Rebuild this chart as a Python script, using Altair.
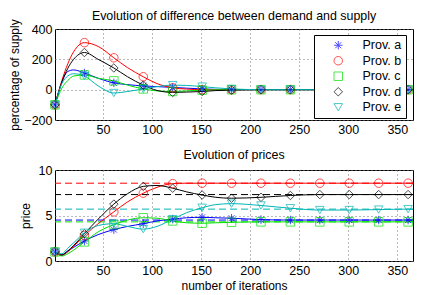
import altair as alt
import pandas as pd

PROVS = ["Prov. a", "Prov. b", "Prov. c", "Prov. d", "Prov. e"]
COLORS = ["#0000ff", "#ff0000", "#00e000", "#000000", "#00b4b4"]
ASTERISK = "M0,-1L0,1M-1,0L1,0M-0.71,-0.71L0.71,0.71M-0.71,0.71L0.71,-0.71"
SHAPES = [ASTERISK, "circle", "square", "diamond", "triangle-down"]

ITER = [1, 8, 14, 20, 31, 45, 61, 75, 91, 105, 121, 135, 151, 165, 181, 211, 241, 271, 301, 331, 361, 366]

DIFF_A = [-100, 50, 120, 130, 110, 75, 45, 33, 25, 20, 15, 10, 5, 2, 0, 0, 0, 0, 0, 0, 0, 0]
DIFF_B = [-100, 60, 170, 250, 310, 285, 210, 145, 85, 40, 12, 4, 0, 0, 0, 0, 0, 0, 0, 0, 0, 0]
DIFF_C = [-100, 10, 60, 90, 97, 75, 58, 30, 5, -8, -12, -8, -3, -1, 0, 0, 0, 0, 0, 0, 0, 0]
DIFF_D = [-100, 50, 140, 200, 245, 200, 143, 85, 30, -5, -18, -16, -12, -6, -3, 0, 0, 0, 0, 0, 0, 0]
DIFF_E = [-100, 40, 90, 105, 90, 25, -22, -12, 5, 20, 30, 28, 20, 12, 5, 0, 0, 0, 0, 0, 0, 0]

PRICE_A = [1.0, 0.7, 1.1, 1.5, 2.2, 2.9, 3.45, 3.8, 4.1, 4.4, 4.6, 4.75, 4.8, 4.75, 4.7, 4.55, 4.5, 4.5, 4.5, 4.5, 4.5, 4.5]
PRICE_B = [1.0, 0.65, 1.0, 1.6, 2.8, 4.1, 5.4, 6.5, 7.45, 8.1, 8.5, 8.55, 8.55, 8.55, 8.55, 8.55, 8.55, 8.55, 8.55, 8.55, 8.55, 8.55]
PRICE_C = [1.0, 0.55, 0.8, 1.2, 2.1, 3.2, 4.0, 4.5, 4.75, 4.7, 4.4, 4.2, 4.15, 4.2, 4.25, 4.3, 4.3, 4.3, 4.3, 4.3, 4.3, 4.3]
PRICE_D = [1.0, 0.65, 1.1, 1.7, 3.0, 4.6, 6.25, 7.4, 8.2, 8.3, 8.0, 7.6, 7.25, 7.0, 6.9, 7.0, 7.2, 7.3, 7.3, 7.3, 7.3, 7.3]
PRICE_E = [1.0, 0.8, 1.4, 2.0, 3.1, 3.9, 4.1, 3.8, 3.5, 3.8, 4.6, 5.3, 5.85, 6.2, 6.3, 6.1, 5.8, 5.6, 5.6, 5.65, 5.7, 5.7]

EQ_PRICE = [4.5, 8.55, 4.3, 7.3, 5.7]

X_TICKS = [50, 100, 150, 200, 250, 300, 350]
DIFF_TICKS = [-200, 0, 200, 400]
PRICE_TICKS = [0, 5, 10]

FONT = "Liberation Sans"

def long_df(series):
    rows = []
    for prov, vals in zip(PROVS, series):
        for x, v in zip(ITER, vals):
            rows.append({"iter": x, "value": v, "prov": prov})
    return pd.DataFrame(rows)

diff_df = long_df([DIFF_A, DIFF_B, DIFF_C, DIFF_D, DIFF_E])
price_df = long_df([PRICE_A, PRICE_B, PRICE_C, PRICE_D, PRICE_E])
eq_df = pd.DataFrame({"prov": PROVS, "value": EQ_PRICE})

color_scale = alt.Scale(domain=PROVS, range=COLORS)
shape_scale = alt.Scale(domain=PROVS, range=SHAPES)
x_scale = alt.Scale(domain=[1, 366], nice=False, zero=False)

W, H = 358, 91

def panel(df, ydomain, yticks, ytitle, xtitle, show_legend, ytitle_pad):
    x_enc = alt.X("iter:Q", scale=x_scale,
                  axis=alt.Axis(values=X_TICKS, title=xtitle))
    y_enc = alt.Y("value:Q", scale=alt.Scale(domain=ydomain, nice=False),
                  axis=alt.Axis(values=yticks, title=ytitle, titlePadding=ytitle_pad))
    lines = alt.Chart(df).mark_line(strokeWidth=1, interpolate="monotone").encode(
        x=x_enc, y=y_enc,
        color=alt.Color("prov:N", scale=color_scale, legend=None),
        detail="prov:N",
    )
    if show_legend:
        leg = alt.Legend(title=None, orient="none", legendX=259, legendY=6)
    else:
        leg = None
    pts = alt.Chart(df).mark_point(filled=False, size=72, strokeWidth=1).transform_filter(
        "(datum.iter - 1) % 30 == 0"
    ).encode(
        x=x_enc, y=y_enc,
        color=alt.Color("prov:N", scale=color_scale, legend=leg),
        shape=alt.Shape("prov:N", scale=shape_scale, legend=leg),
    )
    return lines, pts

top_lines, top_pts = panel(diff_df, [-200, 400], DIFF_TICKS, "percentage of supply",
                           None, True, 2)
bot_lines, bot_pts = panel(price_df, [0, 10], PRICE_TICKS, "price",
                           "number of iterations", False, 6)

rules = alt.Chart(eq_df).mark_rule(strokeWidth=1, strokeDash=[7, 4]).encode(
    y=alt.Y("value:Q"),
    color=alt.Color("prov:N", scale=color_scale, legend=None),
)

title_kw = dict(fontSize=12.4, fontWeight="normal", font=FONT, anchor="middle",
                frame="group", color="black")

top = alt.layer(top_lines, top_pts).properties(
    width=W, height=H,
    title=alt.Title("Evolution of difference between demand and supply", offset=-4, **title_kw),
).resolve_legend(color="independent", shape="independent")

bottom = alt.layer(rules, bot_lines, bot_pts).properties(
    width=W, height=H,
    title=alt.Title("Evolution of prices", offset=3, **title_kw),
)

chart = alt.vconcat(top, bottom, spacing=12).resolve_scale(
    color="independent", shape="independent"
).resolve_legend(color="independent", shape="independent").properties(
    padding={"left": 0, "top": 1, "right": 0, "bottom": 0}
).configure_view(
    stroke="black", strokeWidth=1
).configure_axis(
    grid=True, gridDash=[1, 3], gridColor="#777777", gridWidth=1,
    domain=False, ticks=False, labelPadding=3,
    labelFont=FONT, labelFontSize=12.5, labelColor="black",
    titleFont=FONT, titleFontSize=12, titleFontWeight="normal", titleColor="black",
).configure_legend(
    strokeColor="black", fillColor="white", padding=4, rowPadding=2.5,
    labelFont=FONT, labelFontSize=12.5, labelColor="black",
    symbolOffset=14, labelOffset=18, symbolStrokeWidth=1, symbolSize=72,
    cornerRadius=0,
)

chart.save("out.html", embed_options={"renderer": "svg", "actions": False})
